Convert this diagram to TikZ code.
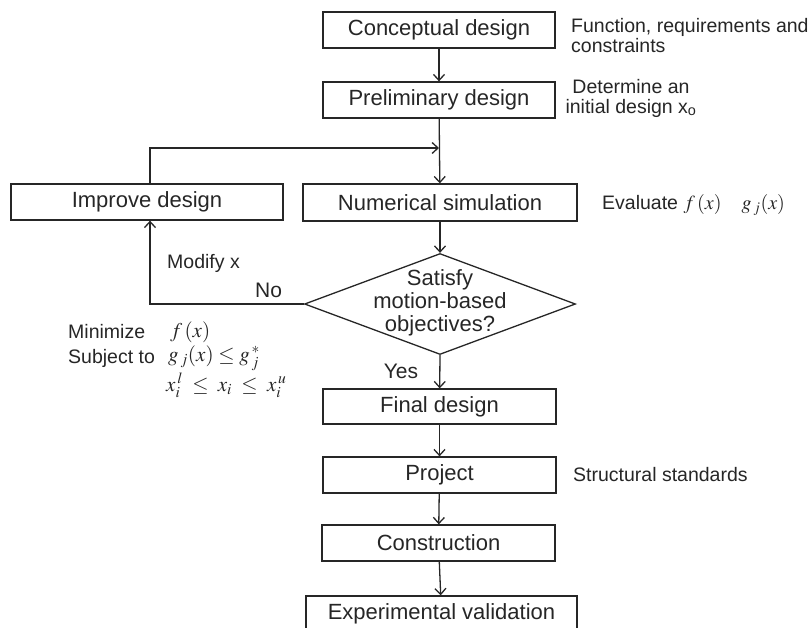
\documentclass[tikz,border=0pt]{standalone}
\usepackage{mathptmx}
\usepackage{fontspec}
\setmainfont{Liberation Sans}
\usetikzlibrary{arrows.meta,shapes.geometric}
\colorlet{ink}{black!85}
\tikzset{
  boxnode/.style={draw=ink, line width=1.3pt, inner sep=0pt, text=ink,
    font=\fontsize{22}{26}\selectfont},
  sidetext/.style={text=ink, inner sep=0pt, font=\fontsize{19.5}{20}\selectfont},
  arr/.style={draw=ink, line width=1.3pt, -{Straight Barb[length=6pt,width=11pt]}},
  mathtext/.style={text=ink, inner sep=0pt, font=\fontsize{21}{24}\selectfont}
}
\begin{document}
\begin{tikzpicture}[x=1pt,y=-1pt]
\useasboundingbox (0,0) rectangle (810,627);
\clip (0,0) rectangle (810,627);

\node[boxnode, minimum width=232pt, minimum height=36pt] (concept) at (439,30) {Conceptual design};
\node[boxnode, minimum width=232pt, minimum height=36pt] (prelim) at (439,100) {Preliminary design};
\node[boxnode, minimum width=274pt, minimum height=37pt] (numsim) at (440,202.5) {Numerical simulation};
\node[boxnode, minimum width=272pt, minimum height=36pt] (improve) at (147,202) {Improve design};
\node[draw=ink, line width=1.3pt, diamond, inner sep=0pt, minimum width=271pt, minimum height=101pt] (dec) at (440,304) {};
\node[text=ink, align=center, inner sep=0pt, font=\fontsize{22}{23}\selectfont] (dectext) at (440,303) {Satisfy\\motion-based\\objectives?};
\node[boxnode, minimum width=233pt, minimum height=35pt] (final) at (439.5,406.5) {Final design};
\node[boxnode, minimum width=233pt, minimum height=36pt] (project) at (439.5,475) {Project};
\node[boxnode, minimum width=233pt, minimum height=36pt] (constr) at (438.5,543) {Construction};
\node[boxnode, minimum width=271pt, minimum height=36pt] (expval) at (441.5,614) {Experimental validation};

\coordinate (j) at (439,148);

\draw[arr] (concept) -- (prelim);
\draw[arr] (prelim) -- (numsim);
\draw[arr] ([xshift=3pt]improve.north) |- (j);
\draw[arr] (numsim) -- (dec);
\draw[arr] (dec.west) -| ([xshift=3pt]improve.south);
\draw[arr] (dec.south) -- (final);
\draw[arr] (final) -- (project);
\draw[arr] (project) -- (constr);
\draw[arr] (constr) -- (expval);

\node[sidetext, anchor=west, align=left] (t1) at (571,36) {Function, requirements and\\constraints};
\node[sidetext, align=center] (t2) at (631,98) {Determine an\\initial design x\textsubscript{o}};
\node[sidetext, anchor=west] (t3) at (602,205) {Evaluate \fontsize{20}{24}\selectfont$f\,(x)\quad g_{\,j}(x)$};
\node[sidetext, anchor=west] (t4) at (573,475) {Structural standards};
\node[sidetext, anchor=west] (t5) at (167,263) {Modify x};
\node[text=ink, inner sep=0pt, anchor=west, font=\fontsize{21}{24}\selectfont] (no) at (255,290) {No};
\node[text=ink, inner sep=0pt, font=\fontsize{21}{24}\selectfont] (yes) at (401,371) {Yes};

\node[sidetext, anchor=west] (m1) at (68,332) {Minimize};
\node[sidetext, anchor=west] (m2) at (68,358) {Subject to};
\node[mathtext, anchor=west] (e1) at (170,332) {$f\,(x)$};
\node[mathtext, anchor=west] (e2) at (168,358) {$g_{\,j}(x)\le g_{\,j}^{\,*}$};
\node[mathtext, anchor=west] (e3) at (166,385) {$x_i^{\,l}\;\le\; x_i\;\le\; x_i^{\,u}$};
\end{tikzpicture}
\end{document}
